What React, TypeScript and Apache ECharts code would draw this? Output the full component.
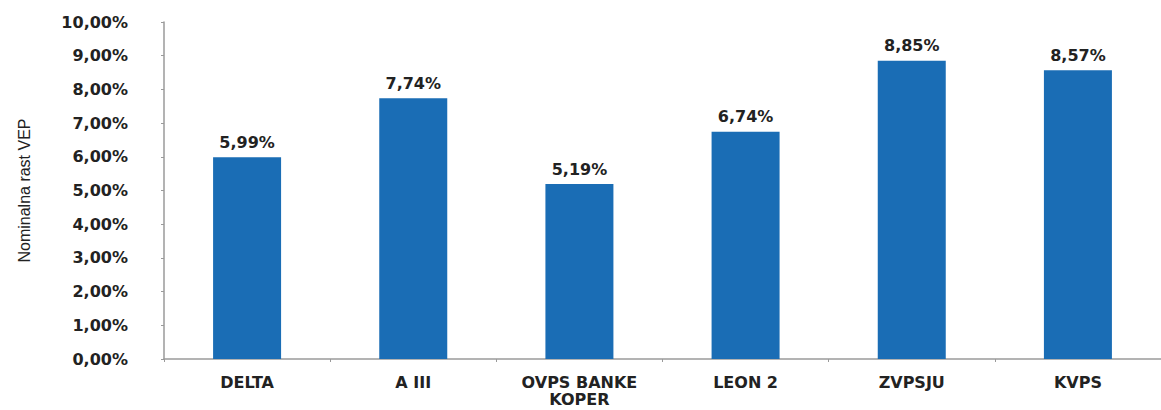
import React, { useEffect, useRef } from "react";
import * as echarts from "echarts";

const categories = ["DELTA", "A III", "OVPS BANKE\nKOPER", "LEON 2", "ZVPSJU", "KVPS"];
const values = [5.99, 7.74, 5.19, 6.74, 8.85, 8.57];
const yAxisName = "Nominalna rast VEP";

const fmt = (v: number) => v.toFixed(2).replace(".", ",") + "%";

export default function App() {
  const ref = useRef<HTMLDivElement>(null);
  useEffect(() => {
    const chart = echarts.init(ref.current!, undefined, { renderer: "svg" });
    chart.setOption({
      animation: false,
      grid: { left: 164, right: -11, top: 22, bottom: 51, containLabel: false },
      xAxis: {
        type: "category",
        data: categories,
        axisLine: { lineStyle: { color: "#9a9a9a", width: 1.5 } },
        axisTick: { show: true, length: 3, lineStyle: { color: "#9a9a9a" } },
        axisLabel: {
          color: "#222",
          fontFamily: "DejaVu Sans",
          fontWeight: "bold",
          fontSize: 16,
          margin: 15,
          lineHeight: 17,
          interval: 0,
        },
      },
      yAxis: {
        type: "value",
        min: 0,
        max: 10,
        interval: 1,
        name: yAxisName,
        nameLocation: "middle",
        nameGap: 132,
        nameTextStyle: {
          color: "#222",
          fontFamily: "Liberation Sans Narrow, sans-serif",
          fontSize: 16,
        },
        splitLine: { show: false },
        axisLine: { show: true, lineStyle: { color: "#9a9a9a", width: 1.5 } },
        axisTick: { show: true, length: 3, lineStyle: { color: "#9a9a9a" } },
        axisLabel: {
          color: "#222",
          fontFamily: "DejaVu Sans",
          fontWeight: "bold",
          fontSize: 16,
          margin: 36,
          formatter: (v: number) => fmt(v),
        },
      },
      series: [
        {
          type: "bar",
          data: values,
          barWidth: 68,
          itemStyle: { color: "#1a6db5" },
          label: {
            show: true,
            position: "top",
            distance: 7,
            color: "#222",
            fontFamily: "DejaVu Sans",
            fontWeight: "bold",
            fontSize: 16,
            formatter: (p: any) => fmt(p.value),
          },
        },
      ],
    });
    return () => chart.dispose();
  }, []);
  return (
    <div
      ref={ref}
      style={{ position: "absolute", left: 0, top: 0, width: 1161, height: 410, background: "#fff" }}
    />
  );
}
